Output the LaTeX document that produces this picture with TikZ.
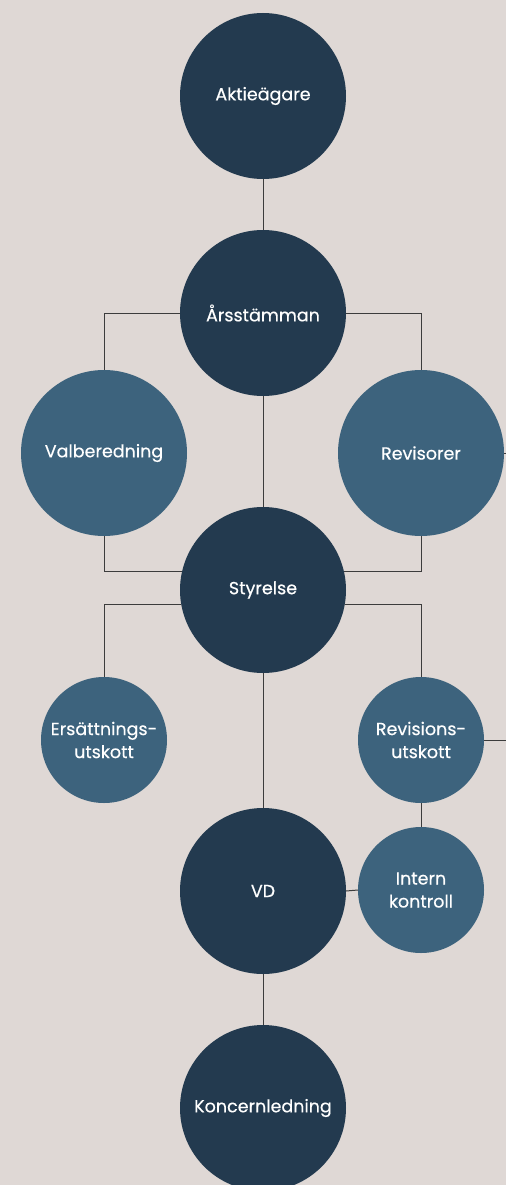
\documentclass[tikz,border=0pt]{standalone}
\usepackage{fontspec}
\setmainfont{Poppins}
\newfontfamily\circlefont{Poppins}[FakeBold=0.4]
\usetikzlibrary{positioning}
\definecolor{bgsand}{HTML}{DFD8D5}
\definecolor{navy}{HTML}{233A4F}
\definecolor{steel}{HTML}{3D637D}
\definecolor{linegray}{HTML}{3C3C3C}
\tikzset{
	bigcircle/.style={circle, fill=navy, minimum size=166pt, inner sep=0pt, outer sep=0pt, text=white, font=\circlefont\fontsize{17.5}{23}\selectfont, align=center},
	sidecircle/.style={bigcircle, fill=steel},
	smallcircle/.style={sidecircle, minimum size=126pt},
	link/.style={draw=linegray, line width=1pt}
}

\begin{document}
\begin{tikzpicture}[x=1pt, y=-1pt]
		\fill[bgsand] (0,0) rectangle (506,1185);
		\useasboundingbox (0,0) rectangle (506,1185);
		% main column
		\node (Aktieagare)[bigcircle] at (263,96) {Aktieägare};
		\node (Arsstamman)[bigcircle, below = 51pt of Aktieagare]{Årsstämman};
		\node (Styrelse)[bigcircle, below = 111pt of Arsstamman]{Styrelse};
		\node (VD)[bigcircle, below = 135pt of Styrelse]{VD};
		\node (Koncernledning)[bigcircle, below = 51pt of VD]{Koncernledning};
		% side circles
		\node (Valberedning)[sidecircle] at (104,453) {Valberedning};
		\node (Revisorer)[sidecircle] at (421,453) {Revisorer};
		\node (Ersattning)[smallcircle] at (104,740) {Ersättnings-\\utskott};
		\node (Revisionsutskott)[smallcircle] at (421,740) {Revisions-\\utskott};
		\node (Intern)[smallcircle] at (421,890) {Intern\\kontroll};
		\coordinate (Revisorer out) at (506,453);
		\coordinate (Revisionsutskott out) at (506,740);
		% connectors
		\draw [link] (Aktieagare) -- (Arsstamman);
		\draw [link] (Arsstamman) -- (Styrelse);
		\draw [link] (Styrelse) -- (VD);
		\draw [link] (VD) -- (Koncernledning);
		\draw [link] (Arsstamman.west) -| (Valberedning.north);
		\draw [link] (Arsstamman.east) -| (Revisorer.north);
		\draw [link] (Valberedning.south) |- (Styrelse.167);
		\draw [link] (Revisorer.south) |- (Styrelse.13);
		\draw [link] (Styrelse.190) -| (Ersattning.north);
		\draw [link] (Styrelse.-10) -| (Revisionsutskott.north);
		\draw [link] (Revisionsutskott) -- (Intern);
		\draw [link] (VD.east) -- (Intern.west);
		\draw [link] (Revisorer.east) -- (Revisorer out);
		\draw [link] (Revisionsutskott.east) -- (Revisionsutskott out);
	\end{tikzpicture}
\end{document}
